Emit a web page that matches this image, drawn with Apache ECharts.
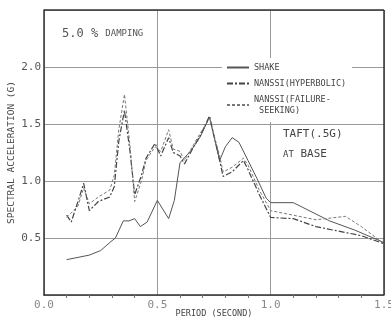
<!DOCTYPE html>
<html>
<head>
<meta charset="utf-8">
<script src="https://cdn.jsdelivr.net/npm/echarts@6/dist/echarts.min.js"></script>
<style>
  html, body { margin: 0; padding: 0; background: #fff; }
  #chart { width: 391px; height: 320px; }
</style>
</head>
<body>
<div id="chart"></div>
<script>
// periods (s) and spectral accelerations (g)
const shakePeriod = [0.10, 0.20, 0.25, 0.29, 0.315, 0.35, 0.375, 0.40, 0.425, 0.455, 0.50, 0.55, 0.575, 0.60, 0.65, 0.69, 0.73, 0.775, 0.80, 0.83, 0.86, 0.90, 0.94, 0.98, 1.00, 1.10, 1.26, 1.37, 1.50];
const shakeAccel  = [0.31, 0.35, 0.39, 0.46, 0.50, 0.65, 0.65, 0.67, 0.60, 0.64, 0.83, 0.67, 0.83, 1.16, 1.27, 1.39, 1.56, 1.18, 1.30, 1.38, 1.34, 1.18, 1.02, 0.85, 0.81, 0.81, 0.65, 0.57, 0.46];

const hypPeriod = [0.10, 0.12, 0.15, 0.175, 0.20, 0.24, 0.29, 0.31, 0.33, 0.355, 0.38, 0.40, 0.43, 0.45, 0.49, 0.515, 0.55, 0.57, 0.60, 0.62, 0.66, 0.69, 0.73, 0.775, 0.79, 0.83, 0.88, 0.90, 0.95, 1.00, 1.10, 1.20, 1.30, 1.40, 1.50];
const hypAccel  = [0.70, 0.64, 0.82, 0.98, 0.74, 0.82, 0.86, 0.95, 1.35, 1.62, 1.25, 0.88, 1.05, 1.20, 1.33, 1.22, 1.38, 1.25, 1.22, 1.15, 1.30, 1.40, 1.57, 1.18, 1.04, 1.08, 1.18, 1.10, 0.88, 0.68, 0.67, 0.60, 0.56, 0.52, 0.45];

const failPeriod = [0.10, 0.12, 0.15, 0.175, 0.20, 0.24, 0.29, 0.31, 0.33, 0.355, 0.38, 0.40, 0.43, 0.45, 0.49, 0.515, 0.55, 0.57, 0.60, 0.62, 0.66, 0.69, 0.73, 0.775, 0.79, 0.83, 0.88, 0.90, 0.95, 1.00, 1.10, 1.20, 1.33, 1.40, 1.50];
const failAccel  = [0.68, 0.72, 0.78, 0.94, 0.80, 0.86, 0.92, 1.05, 1.45, 1.76, 1.30, 0.82, 1.00, 1.18, 1.30, 1.26, 1.45, 1.28, 1.26, 1.18, 1.32, 1.42, 1.55, 1.22, 1.08, 1.12, 1.20, 1.14, 0.92, 0.74, 0.70, 0.66, 0.69, 0.60, 0.45];

const xTicks = ['0.0', '0.5', '1.0', '1.5'];
const yTicks = ['0.5', '1.0', '1.5', '2.0'];

const pairs = (xs, ys) => xs.map((x, i) => [x, ys[i]]);

const mono = 'DejaVu Sans Mono';
const chart = echarts.init(document.getElementById('chart'));

chart.setOption({
  backgroundColor: '#fff',
  animation: false,
  grid: { left: 44, right: 7, top: 10, bottom: 25, containLabel: false, outerBoundsMode: 'none' },
  legend: {
    orient: 'vertical',
    left: 222,
    top: 58,
    itemWidth: 22,
    itemHeight: 8,
    itemGap: 5,
    padding: [4, 6, 6, 4],
    backgroundColor: '#fff',
    itemStyle: { opacity: 0 },
    textStyle: { fontFamily: mono, fontSize: 8.5, color: '#444', lineHeight: 11 },
    data: ['SHAKE', 'NANSSI(HYPERBOLIC)', 'NANSSI(FAILURE-\n SEEKING)']
  },
  graphic: [
    {
      type: 'text', left: 62, top: 28,
      style: {
        text: '5.0 % {s|DAMPING}',
        font: '12px DejaVu Sans Mono', fill: '#555',
        rich: { s: { fontFamily: mono, fontSize: 9, fill: '#555' } }
      }
    },
    {
      type: 'text', left: 283, top: 129,
      style: { text: 'TAFT(.5G)', font: '11px DejaVu Sans Mono', fill: '#444' }
    },
    {
      type: 'text', left: 283, top: 149,
      style: {
        text: '{s|AT} BASE', font: '11px DejaVu Sans Mono', fill: '#444',
        rich: { s: { fontFamily: mono, fontSize: 9, fill: '#444' } }
      }
    }
  ],
  xAxis: {
    type: 'value',
    min: 0, max: 1.5, interval: 0.5,
    name: 'PERIOD (SECOND)',
    nameLocation: 'middle',
    nameGap: 14,
    nameMoveOverlap: false,
    nameTextStyle: { fontFamily: mono, fontSize: 8.5, color: '#444', verticalAlign: 'top' },
    axisLine: { show: true, lineStyle: { color: '#333', width: 1.5 } },
    axisTick: { show: false },
    minorTick: { show: true, splitNumber: 5, length: 3, lineStyle: { color: '#777' } },
    axisLabel: {
      margin: 5, fontFamily: mono, fontSize: 11, color: '#888',
      formatter: v => xTicks[Math.round(v / 0.5)]
    },
    splitLine: { show: true, lineStyle: { color: '#999', width: 1 } }
  },
  yAxis: {
    type: 'value',
    min: 0, max: 2.5, interval: 0.5,
    name: 'SPECTRAL ACCELERATION (G)',
    nameLocation: 'middle',
    nameGap: 27,
    nameMoveOverlap: false,
    nameRotate: 90,
    nameTextStyle: { fontFamily: mono, fontSize: 9.5, color: '#444' },
    axisLine: { show: true, lineStyle: { color: '#333', width: 1.5 } },
    axisTick: { show: false },
    axisLabel: {
      margin: 3, fontFamily: mono, fontSize: 11, color: '#555',
      formatter: v => {
        const i = Math.round(v / 0.5) - 1;
        return i >= 0 && i < yTicks.length ? yTicks[i] : '';
      }
    },
    splitLine: { show: true, lineStyle: { color: '#999', width: 1 } }
  },
  series: [
    {
      name: 'SHAKE',
      type: 'line',
      symbol: 'none',
      data: pairs(shakePeriod, shakeAccel),
      lineStyle: { color: '#555', width: 1 },
      itemStyle: { color: '#555' }
    },
    {
      name: 'NANSSI(HYPERBOLIC)',
      type: 'line',
      symbol: 'none',
      data: pairs(hypPeriod, hypAccel),
      lineStyle: { color: '#444', width: 1.2, type: [6, 2, 2, 2] },
      itemStyle: { color: '#444' }
    },
    {
      name: 'NANSSI(FAILURE-\n SEEKING)',
      type: 'line',
      symbol: 'none',
      data: pairs(failPeriod, failAccel),
      lineStyle: { color: '#777', width: 1, type: [3, 2] },
      itemStyle: { color: '#777' }
    },
    {
      // right and top edges of the frame
      type: 'line',
      silent: true,
      symbol: 'none',
      data: [],
      markLine: {
        silent: true, symbol: 'none', label: { show: false },
        lineStyle: { color: '#333', width: 1.5, type: 'solid' },
        data: [{ xAxis: 1.5 }, { yAxis: 2.5 }]
      }
    }
  ]
});
</script>
</body>
</html>
